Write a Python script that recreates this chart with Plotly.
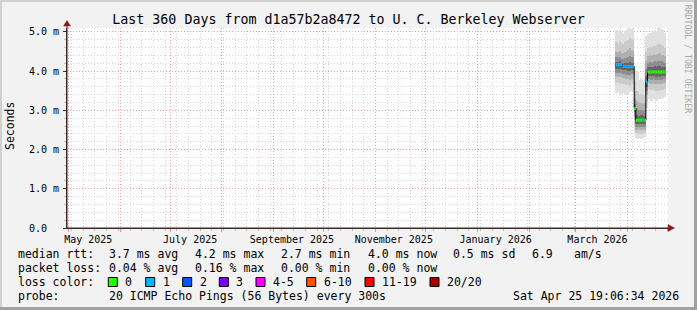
import plotly.graph_objects as go
import pandas as pd

# ---------------- data ----------------
days = pd.date_range("2026-03-25", periods=30, freq="D")

median = [4.17, 4.17, 4.17, 4.17, 4.12, 4.12, 4.12, 4.12, 4.12, 4.12, 4.12,
          3.05,
          2.75, 2.75, 2.75, 2.75, 2.75, 2.75,
          3.72,
          3.98, 3.98, 3.98, 3.98, 3.98, 3.98, 3.98, 3.98, 3.98, 3.98, 3.98]
loss = [1, 1, 1, 1, 1, 1, 1, 1, 1, 1, 1,
        0,
        0, 0, 0, 0, 1, 0,
        1,
        0, 0, 0, 0, 0, 0, 0, 0, 0, 0, 0]

p100 = [5.05, 5.02, 5.06, 5.00, 4.98, 5.03, 5.05, 5.10, 5.10, 5.08, 5.10,
        4.02,
        4.00, 3.98, 3.78, 3.80, 3.75, 3.78,
        4.90,
        4.95, 4.97, 4.96, 5.00, 5.05, 5.02, 5.10, 5.10, 5.08, 5.05, 4.98]
p90 = [4.75, 4.70, 4.78, 4.72, 4.70, 4.74, 4.76, 4.80, 4.85, 4.82, 4.80,
       3.75,
       3.50, 3.48, 3.40, 3.42, 3.38, 3.40,
       4.50,
       4.60, 4.62, 4.60, 4.63, 4.65, 4.64, 4.68, 4.70, 4.66, 4.64, 4.60]
p80 = [4.50, 4.48, 4.52, 4.47, 4.45, 4.50, 4.50, 4.55, 4.58, 4.55, 4.52,
       3.50,
       3.25, 3.22, 3.18, 3.20, 3.15, 3.18,
       4.25,
       4.38, 4.40, 4.38, 4.40, 4.42, 4.40, 4.43, 4.45, 4.42, 4.40, 4.38]
p70 = [4.35, 4.33, 4.36, 4.32, 4.30, 4.33, 4.34, 4.36, 4.38, 4.36, 4.35,
       3.30,
       3.05, 3.02, 3.00, 3.02, 2.98, 3.00,
       4.05,
       4.22, 4.23, 4.22, 4.24, 4.25, 4.24, 4.26, 4.27, 4.25, 4.24, 4.22]
p60 = [4.24, 4.23, 4.25, 4.22, 4.19, 4.20, 4.21, 4.22, 4.23, 4.22, 4.20,
       3.15,
       2.88, 2.86, 2.86, 2.87, 2.85, 2.86,
       3.88,
       4.10, 4.10, 4.10, 4.11, 4.12, 4.11, 4.12, 4.12, 4.11, 4.10, 4.10]
p40 = [4.05, 4.06, 4.05, 4.06, 4.02, 4.03, 4.02, 4.01, 4.00, 4.02, 4.02,
       2.95,
       2.66, 2.65, 2.66, 2.65, 2.66, 2.65,
       3.60,
       3.88, 3.88, 3.87, 3.88, 3.87, 3.86, 3.87, 3.86, 3.87, 3.88, 3.88]
p30 = [3.95, 3.96, 3.94, 3.95, 3.92, 3.93, 3.91, 3.90, 3.90, 3.92, 3.92,
       2.85,
       2.58, 2.57, 2.58, 2.57, 2.58, 2.58,
       3.50,
       3.80, 3.79, 3.78, 3.79, 3.78, 3.77, 3.78, 3.77, 3.78, 3.79, 3.80]
p20 = [3.85, 3.86, 3.84, 3.84, 3.82, 3.82, 3.80, 3.80, 3.78, 3.80, 3.82,
       2.75,
       2.50, 2.50, 2.52, 2.50, 2.50, 2.51,
       3.40,
       3.70, 3.70, 3.68, 3.69, 3.68, 3.67, 3.68, 3.67, 3.68, 3.69, 3.70]
p10 = [3.70, 3.72, 3.68, 3.70, 3.68, 3.66, 3.65, 3.64, 3.62, 3.66, 3.68,
       2.62,
       2.42, 2.40, 2.42, 2.40, 2.42, 2.42,
       3.25,
       3.55, 3.54, 3.52, 3.53, 3.52, 3.50, 3.52, 3.50, 3.52, 3.53, 3.55]
p0 = [3.45, 3.48, 3.40, 3.42, 3.45, 3.40, 3.38, 3.42, 3.48, 3.50, 3.52,
      2.45,
      2.30, 2.28, 2.30, 2.28, 2.30, 2.32,
      3.05,
      3.30, 3.28, 3.25, 3.30, 3.28, 3.25, 3.30, 3.28, 3.30, 3.32, 3.35]

y_ticks = [0, 1, 2, 3, 4, 5]
y_ticktext = ["0.0\u00a0\u00a0", "1.0 m", "2.0 m", "3.0 m", "4.0 m", "5.0 m"]

x_label_dates = ["2025-05-13", "2025-07-13", "2025-09-12", "2025-11-12", "2026-01-12", "2026-03-14"]
x_label_text = ["May 2025", "July 2025", "September 2025", "November 2025", "January 2026", "March 2026"]
month_starts = pd.date_range("2025-05-01", "2026-04-01", freq="MS")

loss_labels = ["0", "1", "2", "3", "4-5", "6-10", "11-19", "20/20"]
loss_colors = ["#26ff00", "#00b8ff", "#0059ff", "#7e00ff", "#ff00ff", "#ff5500", "#ff0000", "#a10000"]

stats_rtt = ["median rtt:", "3.7 ms avg", "4.2 ms max", "2.7 ms min", "4.0 ms now", "0.5 ms sd", "6.9", "am/s"]
stats_loss = ["packet loss:", "0.04 % avg", "0.16 % max", "0.00 % min", "0.00 % now"]
probe_text = ["probe:", "20 ICMP Echo Pings (56 Bytes) every 300s", "Sat Apr 25 19:06:34 2026"]
title_text = "Last 360 Days from d1a57b2a8472 to U. C. Berkeley Webserver"

# ---------------- geometry ----------------
W, H = 697, 310
L, R, T, B = 67, 29, 28, 82
PW, PH = W - L - R, H - T - B
X_RANGE = ["2025-04-30 06:00", "2026-04-25 06:00"]
FONT = "DejaVu Sans Mono"


def px(x):
    return (x - L) / PW


def py(y):
    return (H - B - y) / PH


def bin_of(n):
    if n <= 3:
        return n
    if n <= 5:
        return 4
    if n <= 10:
        return 5
    if n <= 19:
        return 6
    return 7


fig = go.Figure()

DAY_MS = 86400000
bands = [(p0, p100, "#e0e0e0"), (p10, p90, "#cbcbcb"), (p20, p80, "#b0b0b0"),
         (p30, p70, "#8e8e8e"), (p40, p60, "#666666")]
for lo, hi, col in bands:
    fig.add_trace(go.Bar(x=days, base=lo, y=[h - l for l, h in zip(lo, hi)],
                         width=DAY_MS, offset=0, marker=dict(color=col, line=dict(width=0)),
                         hoverinfo="skip", showlegend=False))

next_days = [d + pd.Timedelta(days=1) for d in days]
fig.add_trace(go.Scatter(x=list(days) + [next_days[-1]], y=median + [median[-1]],
                         mode="lines", line=dict(color="#000000", width=1, shape="hv"),
                         hoverinfo="skip", showlegend=False))

for b, col in enumerate(loss_colors):
    xs, ys = [], []
    for d, nd, m, ls in zip(days, next_days, median, loss):
        if bin_of(ls) == b:
            xs += [d, nd, None]
            ys += [m, m, None]
    if xs:
        fig.add_trace(go.Scatter(x=xs, y=ys, mode="lines", line=dict(color=col, width=3),
                                 hoverinfo="skip", showlegend=False))

shapes = []
# frame (3D border)
shapes.append(dict(type="rect", xref="paper", yref="paper", x0=px(0), x1=px(W), y0=py(0), y1=py(2),
                   fillcolor="#d0d0d0", line=dict(width=0), layer="above"))
shapes.append(dict(type="rect", xref="paper", yref="paper", x0=px(0), x1=px(2), y0=py(0), y1=py(H),
                   fillcolor="#d0d0d0", line=dict(width=0), layer="above"))
shapes.append(dict(type="rect", xref="paper", yref="paper", x0=px(0), x1=px(W), y0=py(307), y1=py(H),
                   fillcolor="#a0a0a0", line=dict(width=0), layer="above"))
shapes.append(dict(type="rect", xref="paper", yref="paper", x0=px(694), x1=px(W), y0=py(0), y1=py(H),
                   fillcolor="#a0a0a0", line=dict(width=0), layer="above"))
# axis extensions and arrows
AXC = "#3c2828"
ARC = "#8b1a1a"
shapes.append(dict(type="line", xref="paper", yref="paper", x0=px(67), x1=px(670), y0=py(228), y1=py(228),
                   line=dict(color=AXC, width=1), layer="above"))
shapes.append(dict(type="line", xref="paper", yref="paper", x0=px(67), x1=px(67), y0=py(228), y1=py(24),
                   line=dict(color=AXC, width=1), layer="above"))
shapes.append(dict(type="path", xref="paper", yref="paper",
                   path=f"M {px(668)} {py(224.5)} L {px(674.5)} {py(228)} L {px(668)} {py(231.5)} Z",
                   fillcolor=ARC, line=dict(color=ARC, width=0.5), layer="above"))
shapes.append(dict(type="path", xref="paper", yref="paper",
                   path=f"M {px(63.5)} {py(26)} L {px(67)} {py(20.5)} L {px(70.5)} {py(26)} Z",
                   fillcolor=ARC, line=dict(color=ARC, width=0.5), layer="above"))

annotations = []


def txt(s, x, y, anchor="left", size=11.5, color="#000000", angle=0):
    annotations.append(dict(text=s, xref="paper", yref="paper", x=px(x), y=py(y),
                            xanchor=anchor, yanchor="middle", showarrow=False, textangle=angle,
                            font=dict(family=FONT, size=size, color=color)))


# legend rows
rtt_x = [16, 107.3, 193.3, 279.3, 365.7, 451.3, 530, 572.3]
for s, x in zip(stats_rtt, rtt_x):
    txt(s, x, 254.3)
loss_x = [16, 107.3, 193.3, 279.3, 365.7]
for s, x in zip(stats_loss, loss_x):
    txt(s, x, 268.3)
txt("loss color:", 16, 282.3)
sq_x = [108.3, 145.7, 182.7, 219.3, 256, 306.7, 365, 430]
for lab, col, x in zip(loss_labels, loss_colors, sq_x):
    shapes.append(dict(type="rect", xref="paper", yref="paper", x0=px(x), x1=px(x + 9),
                       y0=py(277.5), y1=py(286.5), fillcolor=col,
                       line=dict(color="#000000", width=1), layer="above"))
    txt(lab, x + 15, 282.3)
txt(probe_text[0], 16, 296)
txt(probe_text[1], 107.3, 296)
txt(probe_text[2], 680.5, 296, anchor="right")

txt("Seconds", 10, 126, anchor="center", angle=-90)
txt("RRDTOOL / TOBI OETIKER", 688.3, 59, anchor="center", size=8.2, color="#a8a8a8", angle=90)

fig.update_layout(
    width=W, height=H, margin=dict(l=L, r=R, t=T, b=B),
    paper_bgcolor="#f2f2f2", plot_bgcolor="#ffffff",
    barmode="overlay", bargap=0,
    font=dict(family=FONT, size=10, color="#000000"),
    title=dict(text=title_text, x=0.5, xref="container", xanchor="center",
               y=1 - 19.3 / H, yref="container", yanchor="middle",
               font=dict(family=FONT, size=13.3, color="#000000")),
    shapes=shapes, annotations=annotations,
    xaxis=dict(type="date", range=X_RANGE, showgrid=False, zeroline=False,
               tickmode="array", tickvals=x_label_dates, ticktext=x_label_text,
               ticks="", showline=True, linecolor=AXC, linewidth=1,
               tickfont=dict(family=FONT, size=10, color="#000000"), ticklabelstandoff=2),
    xaxis2=dict(type="date", range=X_RANGE, overlaying="x", anchor="y", side="bottom",
                showticklabels=False, tickmode="linear", tick0="2025-05-03", dtick=7 * DAY_MS,
                showgrid=True, gridcolor="#d6d6d6", griddash="1px,2px", gridwidth=1,
                ticks="outside", ticklen=2, tickcolor="#c0c0c0", zeroline=False),
    xaxis3=dict(type="date", range=X_RANGE, overlaying="x", anchor="y", side="bottom",
                showticklabels=False, tickmode="array", tickvals=list(month_starts),
                showgrid=True, gridcolor="#f2a0a0", griddash="1px,2px", gridwidth=1,
                ticks="outside", ticklen=3, tickcolor="#e89090", zeroline=False),
    yaxis=dict(range=[0, 5.1], tickmode="array", tickvals=y_ticks, ticktext=y_ticktext,
               showgrid=True, gridcolor="#f2a0a0", griddash="1px,2px", gridwidth=1,
               zeroline=False, showline=True, linecolor=AXC, linewidth=1,
               ticks="outside", ticklen=3, tickcolor=AXC, ticklabelstandoff=2,
               tickfont=dict(family=FONT, size=10, color="#000000"),
               minor=dict(tickmode="linear", tick0=0, dtick=0.2, showgrid=True,
                          gridcolor="#d6d6d6", griddash="1px,2px", gridwidth=1,
                          ticks="outside", ticklen=2, tickcolor="#c0c0c0")),
)

# dummy traces so overlay axes render
fig.add_trace(go.Scatter(x=[days[0]], y=[None], xaxis="x2", showlegend=False, hoverinfo="skip"))
fig.add_trace(go.Scatter(x=[days[0]], y=[None], xaxis="x3", showlegend=False, hoverinfo="skip"))

fig.write_html("out.html")
